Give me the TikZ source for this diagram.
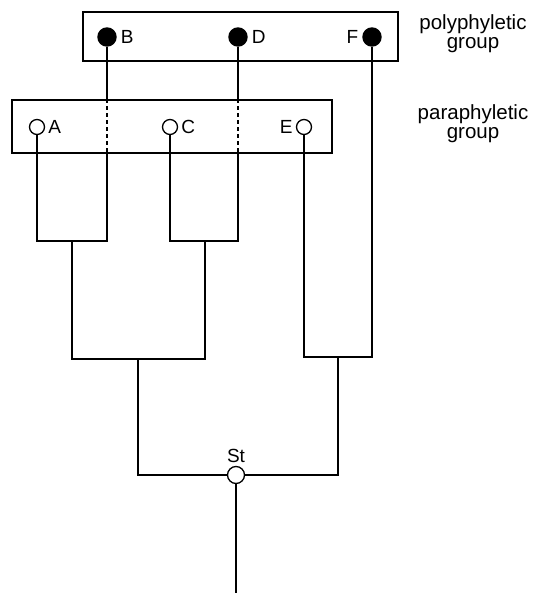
\documentclass[tikz,border=0pt]{standalone}
\usepackage{fontspec}
\setmainfont{Liberation Sans}
\begin{document}
\begin{tikzpicture}[x=1pt,y=-1pt,line width=1.4pt,
  full/.style={circle,fill=black,draw=black,inner sep=0pt,minimum size=18pt},
  hollow/.style={circle,fill=white,draw=black,line width=1.3pt,inner sep=0pt,minimum size=15pt},
  lbl/.style={font=\fontsize{19}{19}\selectfont,inner sep=1pt},
  grp/.style={draw,line width=1.3pt,inner sep=0pt},
  side/.style={font=\fontsize{20.5}{19.5}\selectfont,align=center,inner sep=0pt},
  tie/.style={dash pattern=on 4pt off 3pt}]
\useasboundingbox (0,0) rectangle (533,593);
% group boxes
\node[grp,minimum width=315pt,minimum height=49pt] (poly) at (240.5,36.5) {};
\node[grp,minimum width=320pt,minimum height=53pt] (para) at (172,126.5) {};
% terminals
\node[full,label={[lbl,label distance=2.5pt]right:B}] (b) at (107,37) {};
\node[full,label={[lbl,label distance=2.5pt]right:D}] (d) at (238,37) {};
\node[full,label={[lbl,label distance=2.5pt]left:F}] (f) at (372,37) {};
\node[hollow,label={[lbl,label distance=1.5pt]right:A}] (a) at (37,127) {};
\node[hollow,label={[lbl,label distance=1.5pt]right:C}] (c) at (170,127) {};
\node[hollow,label={[lbl,label distance=1.5pt]left:E}] (e) at (304,127) {};
% side labels
\node[side] (polytxt) at (473,33.5) {polyphyletic\\group};
\node[side] (paratxt) at (473,123.5) {paraphyletic\\group};
% internal junctions
\coordinate (ab) at (72,241);
\coordinate (cd) at (205,241);
\coordinate (abcd) at (138,359);
\coordinate (ef) at (338,357);
\coordinate (root) at (236,593);
% B and D stems crossing the paraphyletic box
\draw (b) -- (b|-para.north);
\draw[tie] (b|-para.north) -- (b|-para.south);
\draw (d) -- (d|-para.north);
\draw[tie] (d|-para.north) -- (d|-para.south);
% tree
\draw (a) |- (ab) -| (b|-para.south);
\draw (c) |- (cd) -| (d|-para.south);
\draw (ab) |- (abcd) -| (cd);
\draw (e) |- (ef) -| (f);
\node[hollow,minimum size=17pt,label={[lbl,label distance=1pt]above:St}] (st) at (236,475) {};
\draw (abcd) |- (st);
\draw (st) -| (ef);
\draw (st) -- (root);
\end{tikzpicture}
\end{document}
